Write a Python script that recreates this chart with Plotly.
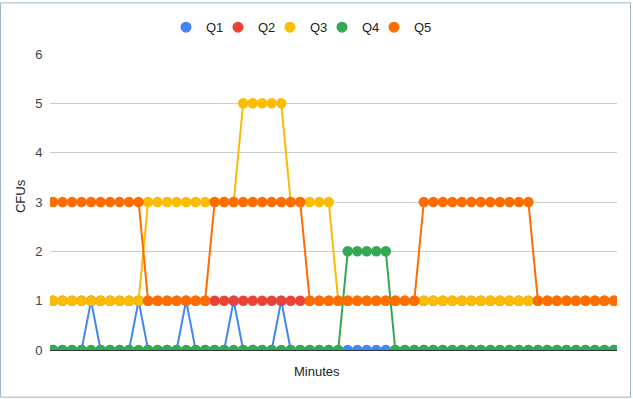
import plotly.graph_objects as go

minutes = list(range(60))

q1 = [0, 0, 0, 0, 1, 0, 0, 0, 0, 1, 0, 0, 0, 0, 1, 0, 0, 0, 0, 1,
      0, 0, 0, 0, 1, 0, 0, 0, 0, 0, 0, 0, 0, 0, 0, 0, 0, 0, 0, 0,
      0, 0, 0, 0, 0, 0, 0, 0, 0, 0, 0, 0, 0, 0, 0, 0, 0, 0, 0, 0]
q2 = [1] * 60
q3 = [1, 1, 1, 1, 1, 1, 1, 1, 1, 1, 3, 3, 3, 3, 3, 3, 3, 3, 3, 3,
      5, 5, 5, 5, 5, 3, 3, 3, 3, 3, 1, 1, 1, 1, 1, 1, 1, 1, 1, 1,
      1, 1, 1, 1, 1, 1, 1, 1, 1, 1, 1, 1, 1, 1, 1, 1, 1, 1, 1, 1]
q4 = [0, 0, 0, 0, 0, 0, 0, 0, 0, 0, 0, 0, 0, 0, 0, 0, 0, 0, 0, 0,
      0, 0, 0, 0, 0, 0, 0, 0, 0, 0, 0, 2, 2, 2, 2, 2, 0, 0, 0, 0,
      0, 0, 0, 0, 0, 0, 0, 0, 0, 0, 0, 0, 0, 0, 0, 0, 0, 0, 0, 0]
q5 = [3, 3, 3, 3, 3, 3, 3, 3, 3, 3, 1, 1, 1, 1, 1, 1, 1, 3, 3, 3,
      3, 3, 3, 3, 3, 3, 3, 1, 1, 1, 1, 1, 1, 1, 1, 1, 1, 1, 1, 3,
      3, 3, 3, 3, 3, 3, 3, 3, 3, 3, 3, 1, 1, 1, 1, 1, 1, 1, 1, 1]

series_names = ["Q1", "Q2", "Q3", "Q4", "Q5"]
series_values = [q1, q2, q3, q4, q5]
colors = ["#4285F4", "#EA4335", "#FBBC04", "#34A853", "#FF6D01"]
y_ticks = [0, 1, 2, 3, 4, 5, 6]

W, H = 633, 399
L, R, T, B = 50, 16, 52, 49
pw, ph = W - L - R, H - T - B

def px_x(p):
    return (p - L) / pw

def px_y(p):
    return (H - B - p) / ph

fig = go.Figure()
for name, vals, col in zip(series_names, series_values, colors):
    fig.add_trace(go.Scatter(
        x=minutes, y=vals, name=name, mode="lines+markers",
        line=dict(color=col, width=2),
        marker=dict(color=col, size=10.5, line=dict(width=0)),
        showlegend=False, legendgroup=name,
    ))
# legend entries (marker only, like the reference)
for name, col in zip(series_names, colors):
    fig.add_trace(go.Scatter(
        x=[None], y=[None], name=name, mode="markers",
        marker=dict(color=col, size=11), legendgroup=name, showlegend=True,
    ))
# invisible spacer entry so the last legend label is not clipped
fig.add_trace(go.Scatter(
    x=[None], y=[None], name=" ", mode="markers", hoverinfo="skip",
    marker=dict(color="rgba(0,0,0,0)", size=1), showlegend=True,
))

fig.update_layout(
    width=W, height=H,
    margin=dict(l=L, r=R, t=T, b=B),
    paper_bgcolor="white", plot_bgcolor="white",
    font=dict(family="Liberation Sans, Arial, sans-serif", size=13, color="#222222"),
    showlegend=True,
    legend=dict(orientation="h", x=px_x(166), xanchor="left", y=px_y(25), yanchor="middle",
                font=dict(size=13, color="#222222"), itemwidth=30, entrywidth=7,
                traceorder="normal", itemclick=False, itemdoubleclick=False),
    xaxis=dict(range=[-0.32, 59.32], showticklabels=False, showgrid=False,
               zeroline=False, showline=True, linecolor="#333333", linewidth=1,
               ticks=""),
    yaxis=dict(range=[0, 6], tickvals=y_ticks, ticktext=[str(v) for v in y_ticks],
               showgrid=True, gridcolor="#cccccc", gridwidth=1, zeroline=False,
               ticks="outside", ticklen=4, tickcolor="rgba(0,0,0,0)",
               tickfont=dict(size=13, color="#444444")),
    annotations=[
        dict(text="Minutes", xref="paper", yref="paper", x=px_x(316.5), y=px_y(372),
             xanchor="center", yanchor="middle", showarrow=False,
             font=dict(size=13, color="#222222")),
        dict(text="CFUs", xref="paper", yref="paper", x=px_x(20), y=px_y(195),
             xanchor="center", yanchor="middle", showarrow=False, textangle=-90,
             font=dict(size=13, color="#222222")),
    ],
    shapes=[
        dict(type="rect", xref="paper", yref="paper",
             x0=px_x(0.5), x1=px_x(630.5), y0=px_y(397.5), y1=px_y(0.5),
             line=dict(color="#9fb5c5", width=1), fillcolor="rgba(0,0,0,0)", layer="above"),
    ],
)

fig.write_html("out.html", config={"displayModeBar": False},
               post_script="document.body.style.margin='0';")
